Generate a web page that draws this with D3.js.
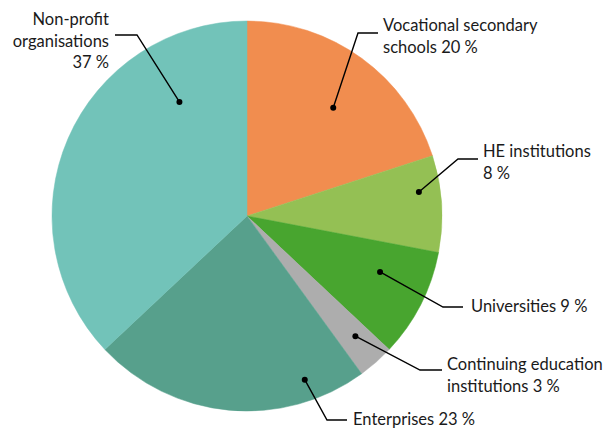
<!DOCTYPE html>
<html><head><meta charset="utf-8">
<script src="https://cdn.jsdelivr.net/npm/d3@7"></script>
<style>body{margin:0;background:#fff}svg{display:block}text{font-family:Lato,"Open Sans",sans-serif;font-size:16.5px;fill:#1a1a1a}</style>
</head><body><svg width="606" height="430"></svg>
<script>
const categories = ["Vocational secondary schools","HE institutions","Universities","Continuing education institutions","Enterprises","Non-profit organisations"];
const values = [20, 8, 9, 3, 23, 37];
const labelLines = [["Vocational secondary","schools 20 %"],["HE institutions","8 %"],["Universities 9 %"],["Continuing education","institutions 3 %"],["Enterprises 23 %"],["Non-profit","organisations","37 %"]];
const colors = ["#F18D4F","#94C054","#48A52F","#ADADAD","#57A08C","#72C3B9"];

// annotation layout: dot placement within slice (t along angle, k of radius), elbow, line end, text anchor
const layout = [
  {t:0.535,k:0.71, elbow:[358,33], end:[378,33], tx:383, ty:31, anchor:"start"},
  {t:0.35, k:0.89, elbow:[458,159], end:[478,159], tx:483, ty:157, anchor:"start"},
  {t:0.37, k:0.74, elbow:[443,307], end:[463,307], tx:471, ty:312, anchor:"start"},
  {t:0.44, k:0.83, elbow:[420,370], end:[442,370], tx:447, ty:370, anchor:"start"},
  {t:0.2,  k:0.89, elbow:[327,420], end:[347,420], tx:353, ty:425, anchor:"start"},
  {t:0.77, k:0.68, elbow:[137,35], end:[115,35], tx:109, ty:25, anchor:"end"}
];

const svg = d3.select("svg");
const cx = 247, cy = 216, R = 195;
const g = svg.append("g").attr("transform",`translate(${cx},${cy})`);
const pie = d3.pie().sort(null).value(d=>d)(values);
const arc = d3.arc().innerRadius(0).outerRadius(R);
g.selectAll("path.slice").data(pie).join("path").attr("class","slice")
  .attr("d",arc).attr("fill",(d,i)=>colors[i]).attr("stroke",(d,i)=>colors[i]).attr("stroke-width",0.5);

pie.forEach((d,i)=>{
  const L = layout[i];
  const a = d.startAngle + L.t*(d.endAngle-d.startAngle);
  const r = L.k*R;
  const px = cx + r*Math.sin(a), py = cy - r*Math.cos(a);
  svg.append("polyline").attr("points",`${px},${py} ${L.elbow[0]},${L.elbow[1]} ${L.end[0]},${L.end[1]}`)
    .attr("fill","none").attr("stroke","#000").attr("stroke-width",1.4);
  svg.append("circle").attr("cx",px).attr("cy",py).attr("r",3).attr("fill","#000");
  const t = svg.append("text").attr("text-anchor",L.anchor);
  labelLines[i].forEach((s,j)=>t.append("tspan").attr("x",L.tx).attr("y",L.ty+j*21.5).text(s));
});
</script></body></html>
